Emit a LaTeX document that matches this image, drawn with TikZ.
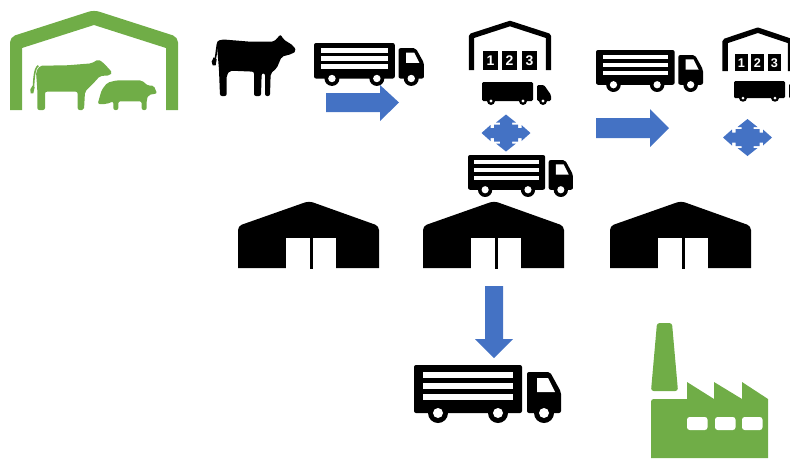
\documentclass[tikz,border=0pt]{standalone}
\usepackage{fontspec}
\setmainfont{Liberation Sans}
\definecolor{grn}{HTML}{70AD47}
\definecolor{blu}{HTML}{4472C4}
\tikzset{
  gfill/.style={fill=grn,draw=none},
  kfill/.style={fill=black,draw=none},
  bfill/.style={fill=blu,draw=none},
  wfill/.style={fill=white,draw=none},
  px/.style={x=0.75pt,y=-0.75pt},
}
\newcommand{\slattruck}[4]{% x y sx sy
\begin{scope}[shift={(#1,#2)},xscale=#3,yscale=#4]
 \fill[kfill,rounded corners=1.5pt] (0,0) rectangle (108,48);
 \foreach \yy in {7,18,29}{\fill[wfill] (9,\yy) rectangle (99,\yy+6);}
 \fill[kfill,rounded corners=1.5pt] (113,7) -- (136,7) -- (147,27) -- (147,48) -- (113,48) -- cycle;
 \fill[wfill] (123,13) -- (134,13) -- (141,27) -- (123,27) -- cycle;
 \foreach \xx in {24,84,130}{
   \fill[kfill] (\xx,48) circle[radius=10];
   \fill[wfill] (\xx,48) circle[radius=5];}
\end{scope}}
\newcommand{\solidtruck}[4]{%
\begin{scope}[shift={(#1,#2)},xscale=#3,yscale=#4]
 \fill[kfill,rounded corners=1pt] (0,0) rectangle (51,19);
 \fill[kfill,rounded corners=1pt] (55,3) -- (62,3) -- (69,13) -- (69,19) -- (55,19) -- cycle;
 \foreach \xx in {9,41,61}{
   \fill[kfill] (\xx,19) circle[radius=4];
   \fill[wfill] (\xx,19) circle[radius=1.6];}
\end{scope}}
\newcommand{\numhouse}[5]{%
\begin{scope}[shift={(#1,#2)},xscale=#3,yscale=#4]
 \draw[line width=4pt,line join=round] (2.5,49) -- (2.5,15) -- (41,2.5) -- (79.5,15) -- (79.5,49);
 \foreach \xx/\dd in {14/1,33/2,53/3}{
   \fill[kfill] (\xx,30) rectangle (\xx+15,48.5);
   \node[text=white,font=\bfseries\fontsize{#5}{10}\selectfont,inner sep=0pt] (d\dd#1) at (\xx+7.5,39.5) {\dd};}
\end{scope}}
\newcommand{\barn}[1]{%
\begin{scope}[shift={(#1,201)}]
 \fill[kfill] (0,67) -- (0,30) [rounded corners=3pt] -- (0,25) -- (71,0) -- (141,25) [sharp corners] -- (141,30) -- (141,67) -- cycle;
 \fill[wfill] (48,37) rectangle (97.5,68);
 \fill[kfill] (71.5,37) rectangle (74.5,68);
\end{scope}}
\newcommand{\quadarrow}[2]{%
\fill[bfill,shift={(#1,#2)}] (-24.5,0) -- (-15.5,-8) -- (-15.5,-5) -- (-12,-5) -- (-12,-8.5) -- (-6,-8.5) -- (-6,-10.5) -- (-10,-10.5) -- (0,-18.5) -- (10,-10.5) -- (6,-10.5) -- (6,-8.5) -- (12,-8.5) -- (12,-5) -- (15.5,-5) -- (15.5,-8) -- (24.5,0) -- (15.5,8) -- (15.5,5) -- (12,5) -- (12,8.5) -- (6,8.5) -- (6,10.5) -- (10,10.5) -- (0,18.5) -- (-10,10.5) -- (-6,10.5) -- (-6,8.5) -- (-12,8.5) -- (-12,5) -- (-15.5,5) -- (-15.5,8) -- cycle;}
\begin{document}
\begin{tikzpicture}[px]
\useasboundingbox (0,0) rectangle (790,458);
\clip (0,0) rectangle (790,458);
% green barn
\fill[gfill] (10,110) -- (10,45) [rounded corners=4pt] -- (10,37) -- (94,10) -- (178,37) [sharp corners] -- (178,45) -- (178,110) -- (166,110) -- (166,48) -- (94,25) -- (22,48) -- (22,110) -- cycle;
\begin{scope}[x=0.25pt,y=-0.25pt]
% green cow
\fill[gfill,rounded corners=1.5pt] (112,330) -- (112,270) -- (108,215) -- (120,197) -- (200,196) -- (275,190) -- (295,178) -- (312,190) -- (337,218) -- (330,226) -- (300,228) -- (280,250) -- (255,275) -- (252,330) -- (233,330) -- (233,275) -- (135,275) -- (135,330) -- cycle;
\draw[grn,line width=1.2pt] (115,197) .. controls (102,205) and (102,240) .. (100,265);
\fill[gfill] (97,258) -- (104,262) -- (100,280) -- (92,280) -- (91,268) -- cycle;
% pig
\fill[gfill,rounded corners=1.5pt] (293,312) -- (305,270) -- (322,248) -- (350,241) -- (425,241) -- (445,258) -- (462,256) -- (465,268) -- (472,280) -- (445,285) -- (440,300) -- (440,330) -- (425,330) -- (425,304) -- (355,304) -- (355,330) -- (340,330) -- (340,304) -- (320,312) -- cycle;
% black cow
\fill[kfill,rounded corners=1.5pt] (660,288) -- (657,210) -- (650,125) -- (665,118) -- (750,125) -- (822,125) -- (842,103) -- (850,118) -- (880,137) -- (889,153) -- (875,162) -- (845,170) -- (830,205) -- (812,220) -- (810,288) -- (795,288) -- (795,220) -- (785,220) -- (783,288) -- (762,288) -- (762,215) -- (690,212) -- (680,225) -- (680,288) -- cycle;
\draw[black,line width=1.2pt] (655,125) .. controls (650,135) and (650,160) .. (645,180);
\fill[kfill] (641,172) -- (650,178) -- (647,196) -- (638,196) -- (635,185) -- cycle;
\end{scope}
% trucks
\slattruck{314}{43}{0.748}{0.74}
\slattruck{596}{50}{0.728}{0.724}
\slattruck{468}{155}{0.714}{0.724}
\slattruck{414}{365}{1}{1}
\solidtruck{482}{82}{1}{1}
\solidtruck{734}{81}{1}{0.9}
% numbered warehouses
\numhouse{469}{21}{1}{1}{10.5}
\numhouse{723}{28}{0.85}{0.88}{9.5}
% barns
\barn{238}\barn{423}\barn{610}
% block arrows
\fill[bfill] (326,93) -- (380,93) -- (380,85) -- (399,102.5) -- (380,121) -- (380,112) -- (326,112) -- cycle;
\fill[bfill] (596,118) -- (650,118) -- (650,109) -- (669,128) -- (650,147) -- (650,138) -- (596,138) -- cycle;
\fill[bfill] (485,286) -- (503,286) -- (503,339) -- (513,339) -- (494,358) -- (475,339) -- (485,339) -- cycle;
\quadarrow{506}{133}
\quadarrow{747.5}{137.5}
% factory
\fill[gfill,rounded corners=2pt] (657,323) -- (672,323) -- (678,391) -- (651,391) -- cycle;
\fill[gfill] (651,458) -- (651,403) [rounded corners=2pt] -- (651,399) [sharp corners] -- (687,399) -- (687,382) -- (714,399) -- (714,382) -- (742,399) -- (742,382) -- (768,399) -- (768,458) -- cycle;
\foreach \xx in {687,715,742}{\fill[wfill,rounded corners=2pt] (\xx,417) rectangle (\xx+20.5,430);}
\end{tikzpicture}
\end{document}
